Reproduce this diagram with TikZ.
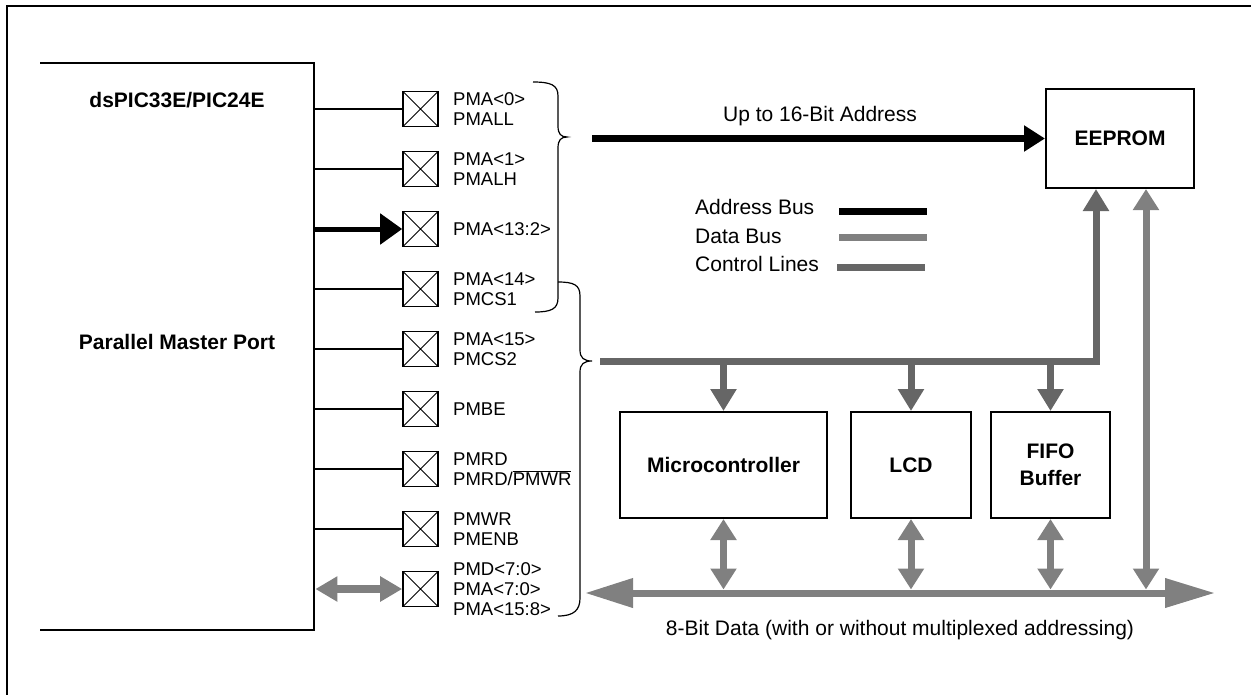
\documentclass[tikz,border=0pt]{standalone}
\usepackage{fontspec}
\setmainfont{Liberation Sans}
\usetikzlibrary{arrows.meta}
\colorlet{datagray}{black!50}
\colorlet{ctrlgray}{black!60}
\tikzset{
  pinbox/.style={draw,line width=1.6pt,minimum size=35pt,inner sep=0pt,
    path picture={\draw[line width=0.9pt]
      (path picture bounding box.north west) -- (path picture bounding box.south east)
      (path picture bounding box.south west) -- (path picture bounding box.north east);}},
  pinlabel/.style={anchor=west,align=left,inner sep=0pt,font=\fontsize{18.5}{20}\selectfont},
  blockbox/.style={draw,line width=2pt,align=center,font=\bfseries\fontsize{21}{27}\selectfont},
  lbl/.style={inner sep=0pt,font=\fontsize{21}{24}\selectfont},
  addrbus/.style={line width=7pt,black},
  databus/.style={line width=7pt,datagray},
  ctrlbus/.style={line width=7pt,ctrlgray},
  tip/.style={-{Triangle[length=22pt,width=25pt]}},
  twotip/.style={{Triangle[length=21pt,width=25pt]}-{Triangle[length=21pt,width=25pt]}},
}
\begin{document}
\begin{tikzpicture}[x=1pt,y=-1pt]
\useasboundingbox (0,0) rectangle (1251,694);
% outer frame, only top and left are inside the page
\draw[line width=2pt] (7,720) |- (1280,6);

% the port
\node[anchor=north west,minimum width=274pt,minimum height=567pt,inner sep=0pt] (pmp) at (40,63) {};
\draw[line width=2pt] (pmp.north west) -- (pmp.north east) -- (pmp.south east) -- (pmp.south west);
\node[font=\bfseries\fontsize{21}{24}\selectfont] (chip) at (177,100) {dsPIC33E/PIC24E};
\node[font=\bfseries\fontsize{21}{24}\selectfont] (pmplbl) at (177,342) {Parallel Master Port};

% pins
\foreach \lab [count=\i from 0] in {{PMA<0>\\PMALL},{PMA<1>\\PMALH},{PMA<13:2>},{PMA<14>\\PMCS1},
  {PMA<15>\\PMCS2},{PMBE},{PMRD\\PMRD/$\overline{\mbox{PMWR}}$},{PMWR\\PMENB},{PMD<7:0>\\PMA<7:0>\\PMA<15:8>}}{
  \node[pinbox] (pin\i) at (420.5,109+60*\i) {};
  \node[pinlabel] (lab\i) at (453,109+60*\i) {\lab};
}
\foreach \i in {0,1,3,4,5,6,7}
  \draw[line width=1.6pt] (pin\i.west -| pmp.east) -- (pin\i.west);
\draw[line width=5pt,-{Triangle[length=22pt,width=30pt]}] (pin2.west -| pmp.east) -- (pin2.west);
\draw[databus,line width=8pt,{Triangle[length=22pt,width=24pt]}-{Triangle[length=22pt,width=24pt]}]
  ([xshift=1pt]pin8.west -| pmp.east) -- (pin8.west);

% braces
\draw[line width=1.2pt] (533,82) .. controls (551,82) and (558,85) .. (558,96) -- (558,126)
  .. controls (558,134) and (561,137) .. (567,137) .. controls (561,137) and (558,140) .. (558,148)
  -- (558,298) .. controls (558,309) and (551,312) .. (535,312);
\draw[line width=1.2pt] (558,282) .. controls (574,282) and (580,285) .. (580,296) -- (580,350)
  .. controls (580,358) and (584,361) .. (592,361) .. controls (584,361) and (580,364) .. (580,372)
  -- (580,598) .. controls (580,610) and (574,616) .. (558,616);

% devices
\node[blockbox,minimum width=148pt,minimum height=99pt] (eeprom) at (1120,138.5) {EEPROM};
\node[blockbox,minimum width=207pt,minimum height=106pt] (micro) at (723.5,465) {Microcontroller};
\node[blockbox,minimum width=120pt,minimum height=106pt] (lcd) at (911,465) {LCD};
\node[blockbox,minimum width=119pt,minimum height=106pt] (fifo) at (1050.5,465) {FIFO\\Buffer};

% address bus
\coordinate (addrstart) at (592,138.5);
\draw[addrbus,-{Triangle[length=21pt,width=25pt]}] (addrstart) -- (eeprom.west);
\node[lbl] (addrlbl) at (820,116) {Up to 16-Bit Address};

% control lines
\coordinate (ctrlstart) at (600,361);
\coordinate (ctrlcorner) at (1096,361);
\draw[ctrlbus,tip] (ctrlstart) -- (ctrlcorner) -- (ctrlcorner |- eeprom.south);
\foreach \b in {micro,lcd,fifo}
  \draw[ctrlbus,tip] (\b.north |- ctrlcorner) -- (\b.north);

% data bus
\coordinate (dataleft) at (585,593);
\coordinate (dataright) at (1215,593);
\coordinate (eedata) at (1146,593);
\draw[databus,{Triangle[length=48pt,width=28pt]}-{Triangle[length=50pt,width=28pt]}] (dataleft) -- (dataright);
\foreach \b in {micro,lcd,fifo}
  \draw[databus,twotip,shorten >=3.5pt] (\b.south) -- (\b.south |- dataleft);
\draw[databus,twotip,shorten >=3.5pt] (eeprom.south -| eedata) -- (eedata);
\node[lbl] (datalbl) at (900,630) {8-Bit Data (with or without multiplexed addressing)};

% legend
\node[lbl,anchor=west] (keyaddr) at (695,207) {Address Bus};
\node[lbl,anchor=west] (keydata) at (695,236) {Data Bus};
\node[lbl,anchor=west] (keyctrl) at (695,264) {Control Lines};
\draw[addrbus] (839,211) -- ++(88,0);
\draw[databus] (839,237) -- ++(88,0);
\draw[ctrlbus] (837,267) -- ++(88,0);
\end{tikzpicture}
\end{document}
